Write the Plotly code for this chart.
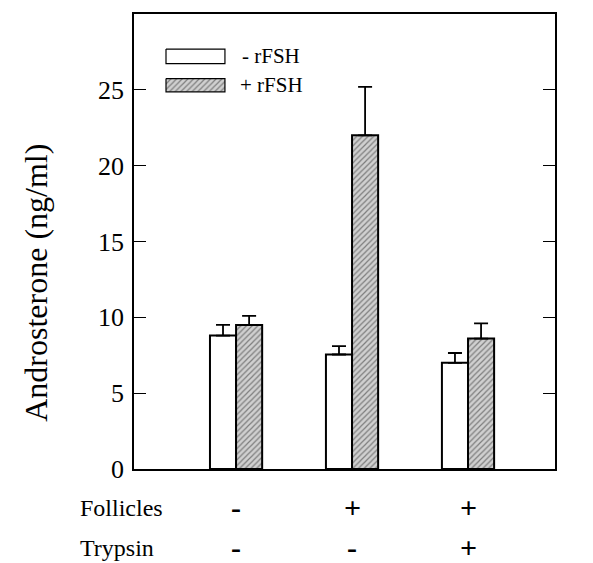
import plotly.graph_objects as go

groups = [0, 1, 2]
minus_rfsh = [8.8, 7.55, 7.0]
minus_err = [0.7, 0.55, 0.65]
plus_rfsh = [9.5, 22.0, 8.6]
plus_err = [0.6, 3.2, 1.0]
follicles = ["-", "+", "+"]
trypsin = ["-", "-", "+"]
y_ticks = [0, 5, 10, 15, 20, 25]
series_names = ["- rFSH", "+ rFSH"]

FONT = "Liberation Serif, Times New Roman, serif"
BW = 0.225
hatch = dict(shape="/", fgcolor="#2a2a2a", bgcolor="#d0d0d0", size=4, solidity=0.3)

fig = go.Figure()
fig.add_trace(go.Bar(
    x=groups, y=minus_rfsh, width=BW, offset=-BW, name=series_names[0],
    marker=dict(color="white", line=dict(color="black", width=2)),
    error_y=dict(type="data", array=minus_err, arrayminus=[0]*3, symmetric=False,
                 color="black", thickness=1.8, width=7),
    showlegend=False))
fig.add_trace(go.Bar(
    x=groups, y=plus_rfsh, width=BW, offset=0, name=series_names[1],
    marker=dict(color="#d0d0d0", pattern=hatch, line=dict(color="black", width=2)),
    error_y=dict(type="data", array=plus_err, arrayminus=[0]*3, symmetric=False,
                 color="black", thickness=1.8, width=7),
    showlegend=False))

# custom legend swatches (in a 0..1 overlay axis)
fig.add_trace(go.Scatter(
    x=[0.076, 0.216, 0.216, 0.076, 0.076], y=[0.923, 0.923, 0.891, 0.891, 0.923],
    xaxis="x2", yaxis="y2", mode="lines", fill="toself", fillcolor="white",
    line=dict(color="black", width=1.2), showlegend=False, hoverinfo="skip"))
fig.add_trace(go.Scatter(
    x=[0.076, 0.216, 0.216, 0.076, 0.076], y=[0.858, 0.858, 0.829, 0.829, 0.858],
    xaxis="x2", yaxis="y2", mode="lines", fill="toself", fillcolor="#d0d0d0",
    fillpattern=hatch, line=dict(color="black", width=1.2), showlegend=False, hoverinfo="skip"))

ann = []
ann.append(dict(x=0.252, y=0.908, xref="paper", yref="paper", text=series_names[0],
                showarrow=False, xanchor="left", yanchor="middle", font=dict(size=21)))
ann.append(dict(x=0.247, y=0.843, xref="paper", yref="paper", text=series_names[1],
                showarrow=False, xanchor="left", yanchor="middle", font=dict(size=21)))
ann.append(dict(x=-0.232, y=0.41, xref="paper", yref="paper", text="Androsterone (ng/ml)",
                textangle=-90, showarrow=False, xanchor="center", yanchor="middle",
                font=dict(size=32)))
ann.append(dict(x=-0.133, y=-0.085, xref="paper", yref="paper", text="Follicles",
                showarrow=False, xanchor="left", yanchor="middle", font=dict(size=24)))
ann.append(dict(x=-0.133, y=-0.173, xref="paper", yref="paper", text="Trypsin",
                showarrow=False, xanchor="left", yanchor="middle", font=dict(size=24)))
for g, f, t in zip(groups, follicles, trypsin):
    ann.append(dict(x=g, y=-0.085, xref="x", yref="paper", text=f"<b>{f}</b>", showarrow=False,
                    xanchor="center", yanchor="middle", font=dict(size=30)))
    ann.append(dict(x=g, y=-0.173, xref="x", yref="paper", text=f"<b>{t}</b>", showarrow=False,
                    xanchor="center", yanchor="middle", font=dict(size=30)))

fig.update_layout(
    width=593, height=563,
    margin=dict(l=134, r=38, t=12, b=94),
    paper_bgcolor="white", plot_bgcolor="white",
    font=dict(family=FONT, color="black", size=19),
    barmode="overlay",
    annotations=ann,
    xaxis=dict(range=[-0.88, 2.75], showticklabels=False, ticks="", showgrid=False,
               zeroline=False, showline=True, linecolor="black", linewidth=1.5, mirror=True),
    yaxis=dict(range=[0, 30], tickvals=y_ticks, ticks="inside", ticklen=12, tickwidth=1.2,
               tickcolor="black", showgrid=False, zeroline=False, showline=True,
               linecolor="black", linewidth=1.5, mirror="ticks",
               tickfont=dict(size=26), ticklabelstandoff=3),
    xaxis2=dict(domain=[0, 1], range=[0, 1], overlaying="x", visible=False, fixedrange=True),
    yaxis2=dict(domain=[0, 1], range=[0, 1], overlaying="y", visible=False, fixedrange=True),
)

fig.write_html("out.html")
